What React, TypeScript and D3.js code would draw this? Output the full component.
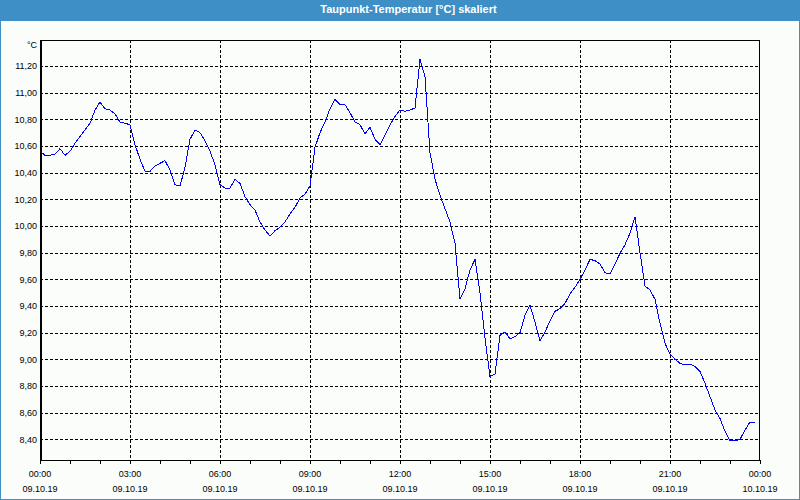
import React from "react";
import * as d3 from "d3";

const title = "Taupunkt-Temperatur [°C] skaliert";
const unitLabel = "°C";
const stepMinutes = 10;
// dew point values every 10 minutes from 09.10.19 00:00 to 23:50
const values: number[] = [
  10.56, 10.53, 10.53, 10.54, 10.58, 10.53, 10.56, 10.62, 10.67, 10.72,
  10.77, 10.87, 10.93, 10.88, 10.87, 10.84, 10.78, 10.77, 10.76, 10.61,
  10.50, 10.41, 10.41, 10.45, 10.47, 10.49, 10.42, 10.31, 10.30, 10.44,
  10.65, 10.72, 10.70, 10.64, 10.56, 10.46, 10.31, 10.285, 10.285, 10.35,
  10.32, 10.22, 10.16, 10.12, 10.03, 9.97, 9.925, 9.965, 9.99, 10.03,
  10.09, 10.14, 10.21, 10.24, 10.30, 10.59, 10.70, 10.78, 10.88, 10.95,
  10.91, 10.91, 10.85, 10.78, 10.76, 10.69, 10.74, 10.65, 10.61, 10.68,
  10.76, 10.82, 10.87, 10.86, 10.87, 10.885, 11.25, 11.12, 10.55, 10.35,
  10.23, 10.13, 10.03, 9.87, 9.455, 9.53, 9.67, 9.75, 9.50, 9.16,
  8.87, 8.89, 9.18, 9.205, 9.155, 9.17, 9.20, 9.33, 9.405, 9.28,
  9.14, 9.205, 9.29, 9.36, 9.38, 9.42, 9.49, 9.54, 9.60, 9.67,
  9.75, 9.74, 9.715, 9.65, 9.64, 9.715, 9.795, 9.86, 9.945, 10.07,
  9.80, 9.55, 9.52, 9.45, 9.27, 9.12, 9.04, 9.00, 8.97, 8.958,
  8.965, 8.945, 8.91, 8.82, 8.72, 8.62, 8.557, 8.46, 8.39, 8.39,
  8.40, 8.47, 8.53, 8.53,
];
const yTicks: number[] = [8.4, 8.6, 8.8, 9.0, 9.2, 9.4, 9.6, 9.8, 10.0, 10.2, 10.4, 10.6, 10.8, 11.0, 11.2];
const xTickHours: number[] = [0, 3, 6, 9, 12, 15, 18, 21, 24];
const xTimeLabels: string[] = ["00:00", "03:00", "06:00", "09:00", "12:00", "15:00", "18:00", "21:00", "00:00"];
const xDateLabels: string[] = ["09.10.19", "09.10.19", "09.10.19", "09.10.19", "09.10.19", "09.10.19", "09.10.19", "09.10.19", "10.10.19"];
const yDomain: [number, number] = [8.245, 11.395];

const W = 800;
const H = 500;
const L = 40, R = 760, T = 40, B = 460;

export default function App() {
  const x = d3.scaleLinear().domain([0, 24]).range([L, R]);
  const y = d3.scaleLinear().domain(yDomain).range([B, T]);
  const pts = values.map((v, i) => [(i * stepMinutes) / 60, v] as [number, number]);
  const line = d3.line<[number, number]>().x((d) => x(d[0])).y((d) => y(d[1]));
  const px = (v: number) => Math.round(v) + 0.5;
  const font = "'Liberation Sans', Arial, sans-serif";
  const minorHours = d3.range(0, 25);

  return (
    <svg width={W} height={H} style={{ position: "fixed", left: 0, top: 0, display: "block" }}>
      <rect x={0} y={0} width={W} height={H} fill="#3d8fc6" />
      <rect x={1} y={21} width={W - 2} height={H - 22} fill="#fbfdfb" />
      <text x={408.5} y={13} fill="#ffffff" fontFamily={font} fontSize={11} fontWeight="bold" textAnchor="middle">
        {title}
      </text>
      {/* horizontal grid */}
      {yTicks.map((t) => (
        <line key={"gy" + t} x1={L} x2={R} y1={px(y(t))} y2={px(y(t))} stroke="#000" strokeDasharray="3,2" shapeRendering="crispEdges" />
      ))}
      {/* vertical grid */}
      {xTickHours.slice(1, -1).map((h) => (
        <line key={"gx" + h} x1={px(x(h))} x2={px(x(h))} y1={T} y2={B} stroke="#000" strokeDasharray="3,2" shapeRendering="crispEdges" />
      ))}
      {/* hourly ticks */}
      {minorHours.map((h) => (
        <line key={"tk" + h} x1={px(x(h))} x2={px(x(h))} y1={B} y2={B + 4} stroke="#000" shapeRendering="crispEdges" />
      ))}
      {/* frame */}
      <rect x={L + 0.5} y={T + 0.5} width={R - L - 1} height={B - T} fill="none" stroke="#000" shapeRendering="crispEdges" />
      <line x1={L + 0.5} x2={L + 0.5} y1={T} y2={B + 1} stroke="#000" strokeWidth={2} shapeRendering="crispEdges" />
      <line x1={L} x2={R + 1} y1={B + 0.5} y2={B + 0.5} stroke="#000" shapeRendering="crispEdges" />
      {/* data line */}
      <path d={line(pts) || ""} fill="none" stroke="#0000ff" strokeWidth={1} shapeRendering="crispEdges" />
      {/* y labels */}
      <text x={37} y={48} fontFamily={font} fontSize={9} fill="#000" textAnchor="end">{unitLabel}</text>
      {yTicks.map((t) => (
        <text key={"ly" + t} x={37} y={y(t) + 3.3} fontFamily={font} fontSize={9} fill="#000" textAnchor="end">
          {t.toFixed(2).replace(".", ",")}
        </text>
      ))}
      {/* x labels */}
      {xTickHours.map((h, i) => (
        <g key={"lx" + h}>
          <text x={x(h)} y={477} fontFamily={font} fontSize={9} fill="#000" textAnchor="middle">{xTimeLabels[i]}</text>
          <text x={x(h)} y={492} fontFamily={font} fontSize={9} fill="#000" textAnchor="middle">{xDateLabels[i]}</text>
        </g>
      ))}
    </svg>
  );
}
